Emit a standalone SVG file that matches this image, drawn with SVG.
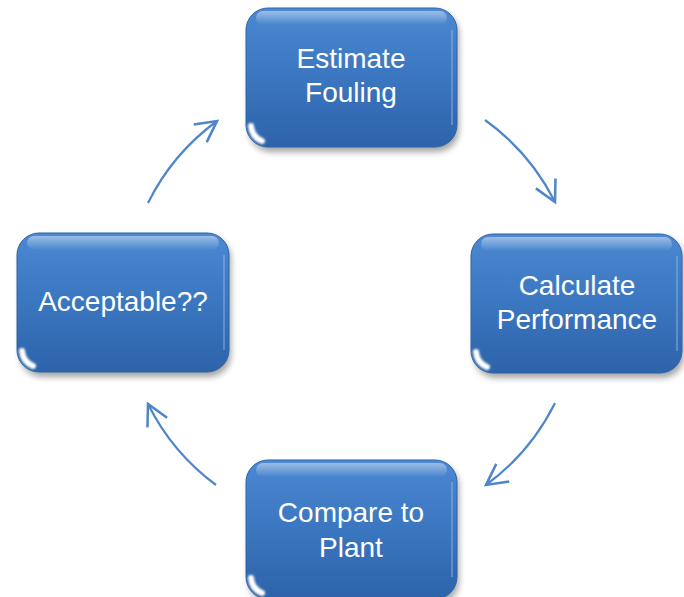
<svg xmlns="http://www.w3.org/2000/svg" width="684" height="597" viewBox="0 0 684 597">
<defs>
<linearGradient id="g" x1="0" y1="0" x2="0" y2="1">
<stop offset="0" stop-color="#4b89d2"/>
<stop offset="0.5" stop-color="#3b76c0"/>
<stop offset="1" stop-color="#2d63a9"/>
</linearGradient>
<linearGradient id="hl" x1="0" y1="0" x2="0" y2="1">
<stop offset="0" stop-color="#ffffff" stop-opacity="0.45"/>
<stop offset="1" stop-color="#ffffff" stop-opacity="0"/>
</linearGradient>
<filter id="sh" x="-10%" y="-10%" width="120%" height="130%">
<feGaussianBlur stdDeviation="3"/>
</filter>
<filter id="gb" x="-50%" y="-50%" width="200%" height="200%">
<feGaussianBlur stdDeviation="1.2"/>
</filter>
<marker id="ah" markerUnits="userSpaceOnUse" markerWidth="30" markerHeight="30" viewBox="-22 -12 26 24" refX="0" refY="0" orient="auto">
<path d="M-18,-9.5 L0,0 L-18,9.5" fill="none" stroke="#4f86c9" stroke-width="2.2" stroke-linejoin="miter"/>
</marker>
</defs>
<style>
.box{fill:url(#g);stroke:#2f64a6;stroke-width:1}
.shadow{fill:#000;opacity:0.35;filter:url(#sh)}
.hl{fill:url(#hl)}
.edge{fill:none;stroke:#8fb8ea;stroke-width:1.5;opacity:0.6}
.glare{fill:none;stroke:#ffffff;stroke-width:6;stroke-linecap:round;filter:url(#gb)}
.lbl{font-family:"Liberation Sans",Arial,sans-serif;font-size:28px;fill:#ffffff;text-anchor:middle}
.conn{fill:none;stroke:#4f86c9;stroke-width:2.2;marker-end:url(#ah)}
</style>
<rect width="684" height="597" fill="#ffffff"/>

<g id="node-estimate">
<rect class="shadow" x="249" y="12" width="210" height="140" rx="22"/>
<rect class="box" x="246" y="8" width="211" height="139" rx="22"/>
<rect class="hl" x="256" y="11" width="191" height="14" rx="7"/>
<path class="edge" d="M452,30 L452,125"/>
<path class="glare" d="M251,126 Q252,137 262,141"/>
<text class="lbl" x="351" y="68">Estimate</text>
<text class="lbl" x="351" y="102">Fouling</text>
</g>

<g id="node-calculate">
<rect class="shadow" x="474" y="238" width="210" height="140" rx="22"/>
<rect class="box" x="471" y="234" width="211" height="139" rx="22"/>
<rect class="hl" x="481" y="237" width="191" height="14" rx="7"/>
<path class="edge" d="M677,256 L677,351"/>
<path class="glare" d="M476,352 Q477,363 487,367"/>
<text class="lbl" x="577" y="295">Calculate</text>
<text class="lbl" x="577" y="329">Performance</text>
</g>

<g id="node-compare">
<rect class="shadow" x="249" y="464" width="210" height="140" rx="22"/>
<rect class="box" x="246" y="460" width="211" height="139" rx="22"/>
<rect class="hl" x="256" y="463" width="191" height="14" rx="7"/>
<path class="edge" d="M452,482 L452,577"/>
<path class="glare" d="M251,578 Q252,589 262,593"/>
<text class="lbl" x="351" y="522">Compare to</text>
<text class="lbl" x="351" y="557">Plant</text>
</g>

<g id="node-acceptable">
<rect class="shadow" x="20" y="237" width="211" height="140" rx="22"/>
<rect class="box" x="17" y="233" width="212" height="139" rx="22"/>
<rect class="hl" x="27" y="236" width="192" height="14" rx="7"/>
<path class="edge" d="M224,255 L224,350"/>
<path class="glare" d="M22,351 Q23,362 33,366"/>
<text class="lbl" x="123" y="311">Acceptable??</text>
</g>

<g id="connectors">
<path class="conn" d="M148,203 A226,226 0 0 1 217,121"/>
<path class="conn" d="M485,120 A226,226 0 0 1 555,202"/>
<path class="conn" d="M555,403 A226,226 0 0 1 486,485"/>
<path class="conn" d="M216,485 A226,226 0 0 1 148,404"/>
</g>
</svg>
